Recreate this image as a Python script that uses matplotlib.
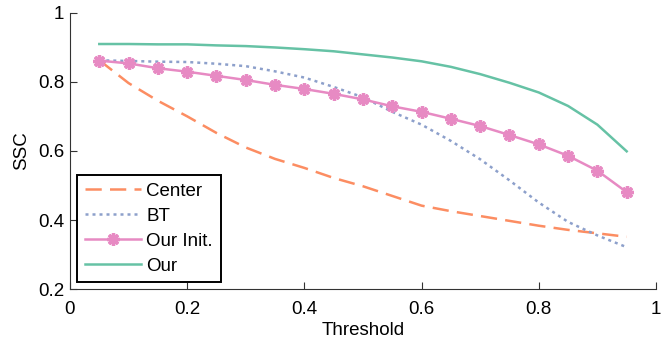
import matplotlib
matplotlib.use("Agg")
import matplotlib.pyplot as plt

plt.rcParams['font.family'] = ['Liberation Sans', 'DejaVu Sans']

thresholds = [0.05, 0.10, 0.15, 0.20, 0.25, 0.30, 0.35, 0.40, 0.45, 0.50,
              0.55, 0.60, 0.65, 0.70, 0.75, 0.80, 0.85, 0.90, 0.95]
center = [0.862, 0.796, 0.745, 0.700, 0.652, 0.610, 0.577, 0.551, 0.522, 0.498,
          0.470, 0.442, 0.426, 0.412, 0.398, 0.384, 0.372, 0.362, 0.352]
bt = [0.862, 0.860, 0.858, 0.857, 0.852, 0.845, 0.830, 0.812, 0.785, 0.755,
      0.713, 0.676, 0.629, 0.576, 0.515, 0.451, 0.395, 0.356, 0.322]
our_init = [0.861, 0.853, 0.839, 0.829, 0.817, 0.805, 0.791, 0.779, 0.765, 0.749,
            0.729, 0.713, 0.693, 0.672, 0.646, 0.619, 0.586, 0.543, 0.481]
our = [0.909, 0.909, 0.908, 0.908, 0.905, 0.903, 0.899, 0.894, 0.888, 0.879,
       0.870, 0.859, 0.843, 0.822, 0.797, 0.769, 0.730, 0.676, 0.599]

xticks = [0, 0.2, 0.4, 0.6, 0.8, 1]
xticklabels = ['0', '0.2', '0.4', '0.6', '0.8', '1']
yticks = [0.2, 0.4, 0.6, 0.8, 1]
yticklabels = ['0.2', '0.4', '0.6', '0.8', '1']

fs = 13.5

fig = plt.figure(figsize=(6.61, 3.41), dpi=100)
ax = fig.add_axes([0.1059, 0.1513, 0.8865, 0.812])

ax.plot(thresholds, center, color='#fc8d62', lw=1.8, dashes=(6.5, 3.3), label='Center')
ax.plot(thresholds, bt, color='#8da0cb', lw=1.8, dashes=(1.2, 1.6), label='BT')
ax.plot(thresholds, our_init, color='#e78ac3', lw=1.8, marker=(8, 2, 0),
        markersize=9, markeredgewidth=2.4, label='Our Init.')
ax.plot(thresholds, our, color='#66c2a5', lw=1.8, label='Our')

ax.set_xlim(0, 1)
ax.set_ylim(0.2, 1)
ax.set_xticks(xticks)
ax.set_xticklabels(xticklabels)
ax.set_yticks(yticks)
ax.set_yticklabels(yticklabels)
ax.tick_params(direction='in', length=5, labelsize=fs, color='#333333')
ax.tick_params(axis='y', pad=4)
ax.tick_params(axis='x', pad=8)
for s in ('left', 'bottom'):
    ax.spines[s].set_color('#333333')
ax.spines['top'].set_visible(False)
ax.spines['right'].set_visible(False)
ax.set_xlabel('Threshold', fontsize=fs, labelpad=3)
ax.set_ylabel('SSC', fontsize=fs, labelpad=6)

leg = ax.legend(loc='lower left', bbox_to_anchor=(0.012, 0.025), fontsize=fs,
                frameon=True, fancybox=False, handlelength=3.0,
                borderpad=0.4, labelspacing=0.42, handletextpad=0.3,
                borderaxespad=0, framealpha=1)
leg.get_frame().set_edgecolor('black')
leg.get_frame().set_linewidth(1.4)

fig.savefig('out.png', dpi=100)
